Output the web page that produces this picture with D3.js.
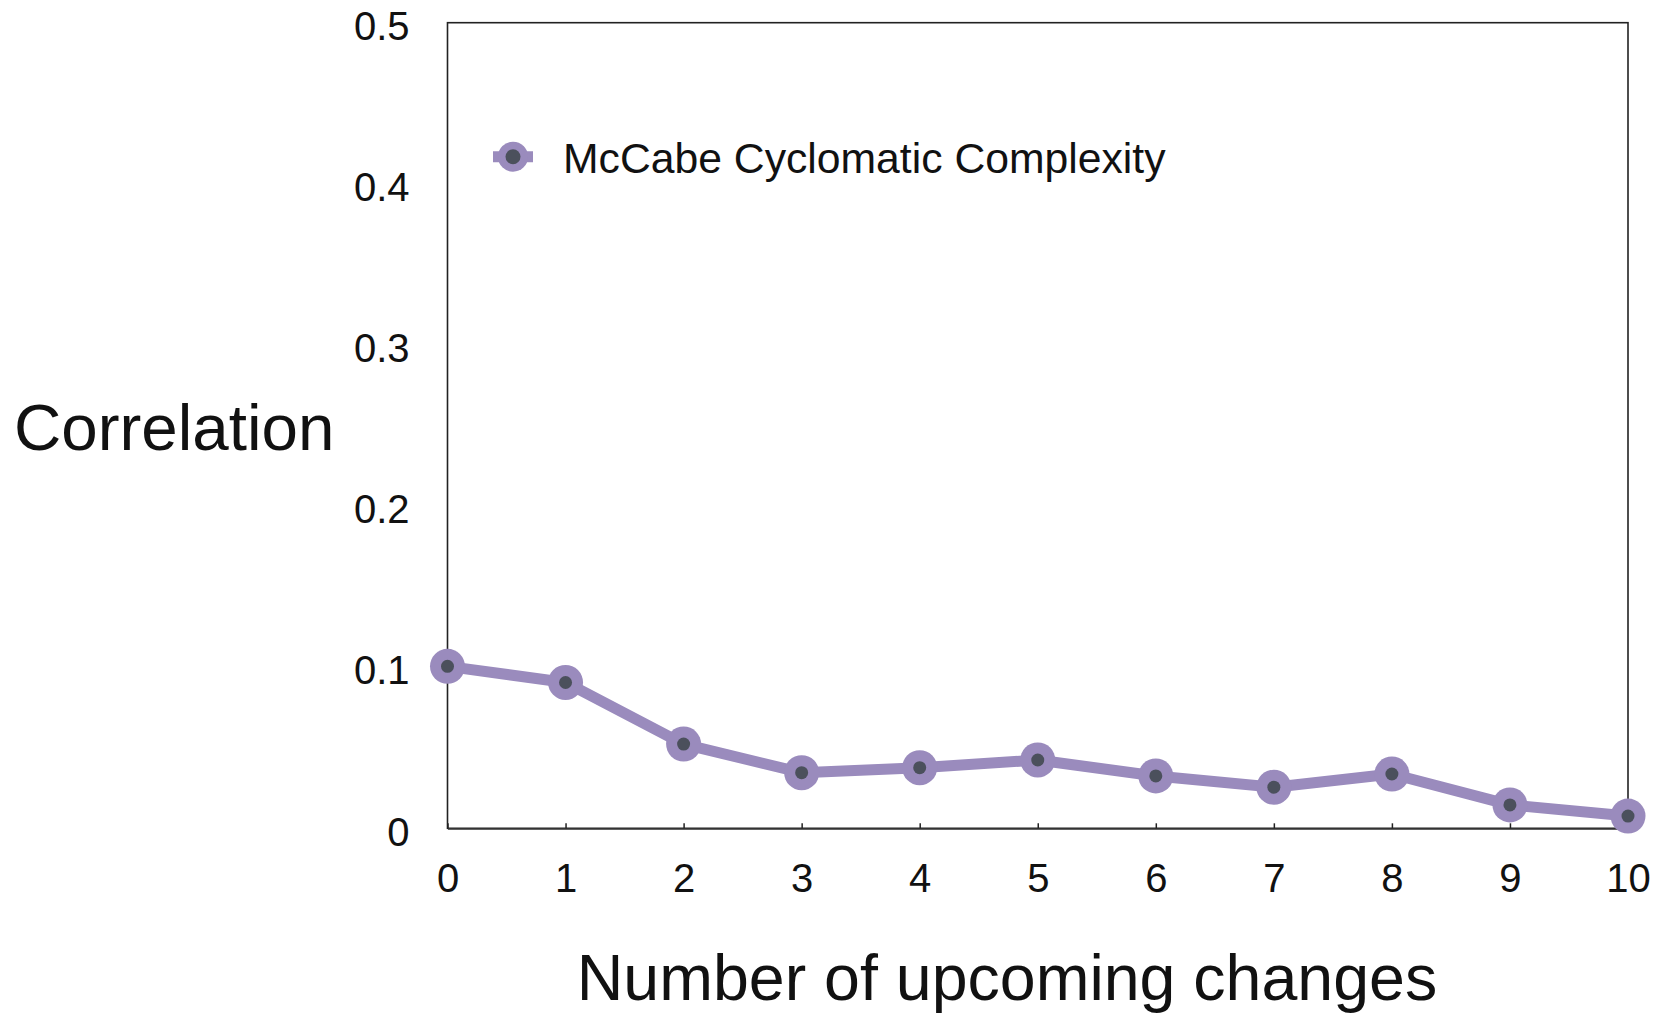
<!DOCTYPE html>
<html>
<head>
<meta charset="utf-8">
<script src="https://cdn.jsdelivr.net/npm/d3@7"></script>
<style>
  html, body { margin: 0; padding: 0; background: #fff; }
  svg { display: block; }
  text { font-family: "Liberation Sans", Arial, Helvetica, sans-serif; fill: #111; }
</style>
</head>
<body>
<svg id="chart" width="1667" height="1014"></svg>
<script>
const changes = [0, 1, 2, 3, 4, 5, 6, 7, 8, 9, 10];
const correlation = [0.1005, 0.0905, 0.0523, 0.0345, 0.0376, 0.0424, 0.0325, 0.0255, 0.0337, 0.0145, 0.0076];
const yTicks = [0, 0.1, 0.2, 0.3, 0.4, 0.5];
const xTicks = [0, 1, 2, 3, 4, 5, 6, 7, 8, 9, 10];
const seriesName = "McCabe Cyclomatic Complexity";
const xTitle = "Number of upcoming changes";
const yTitle = "Correlation";

const purple = "#9a8bbd";
const dark = "#4b505c";

const svg = d3.select("#chart");
const mLeft = 447.5, mRight = 1628, mTop = 22.7, mBottom = 828.3;

const x = d3.scaleLinear().domain([0, 10]).range([mLeft, mRight]);
const y = d3.scaleLinear().domain([0, 0.5]).range([mBottom, mTop]);

// frame
svg.append("rect")
  .attr("x", mLeft).attr("y", mTop)
  .attr("width", mRight - mLeft).attr("height", mBottom - mTop)
  .attr("fill", "none").attr("stroke", "#222").attr("stroke-width", 1.6);

// x axis
const xAxis = d3.axisBottom(x).tickValues(xTicks).tickFormat(d3.format("d"))
  .tickSizeInner(-5).tickSizeOuter(0).tickPadding(0);
const gx = svg.append("g").attr("transform", `translate(0,${mBottom})`).call(xAxis);
gx.select(".domain").attr("stroke", "#333").attr("stroke-width", 1.8);
gx.selectAll(".tick line").attr("stroke", "#222").attr("stroke-width", 1.5);
gx.selectAll(".tick text")
  .attr("y", 63.5).attr("dy", null)
  .style("font-size", "40px").style("font-family", "'Liberation Sans', Arial, sans-serif").attr("fill", "#111");

// y axis
const yAxis = d3.axisLeft(y).tickValues(yTicks).tickFormat(d => d === 0 ? "0" : d3.format(".1f")(d))
  .tickSize(0).tickPadding(0);
const gy = svg.append("g").attr("transform", `translate(${mLeft},0)`).call(yAxis);
gy.select(".domain").remove();
gy.selectAll(".tick text")
  .attr("x", -38).attr("dy", null).attr("y", 16.8)
  .style("font-size", "40px").style("font-family", "'Liberation Sans', Arial, sans-serif").attr("fill", "#111");

// titles
svg.append("text").attr("x", 14).attr("y", 450)
  .style("font-size", "65.5px").text(yTitle);
svg.append("text").attr("x", 1007).attr("y", 1000).attr("text-anchor", "middle")
  .style("font-size", "64.5px").text(xTitle);

// line
const data = changes.map((c, i) => ({ c, v: correlation[i] }));
svg.append("path").datum(data)
  .attr("fill", "none").attr("stroke", purple).attr("stroke-width", 11)
  .attr("stroke-linejoin", "round")
  .attr("d", d3.line().x(d => x(d.c)).y(d => y(d.v)));

const pts = svg.append("g").selectAll("g").data(data).join("g")
  .attr("transform", d => `translate(${x(d.c)},${y(d.v)})`);
pts.append("circle").attr("r", 17.5).attr("fill", purple);
pts.append("circle").attr("r", 6.5).attr("fill", dark);

// legend
const lg = svg.append("g").attr("transform", "translate(513,156.7)");
lg.append("line").attr("x1", -20).attr("x2", 20).attr("y1", 0).attr("y2", 0)
  .attr("stroke", purple).attr("stroke-width", 11);
lg.append("circle").attr("r", 15).attr("fill", purple);
lg.append("circle").attr("r", 7.5).attr("fill", dark);
svg.append("text").attr("x", 563).attr("y", 172.8)
  .style("font-size", "42.7px").text(seriesName);
</script>
</body>
</html>
